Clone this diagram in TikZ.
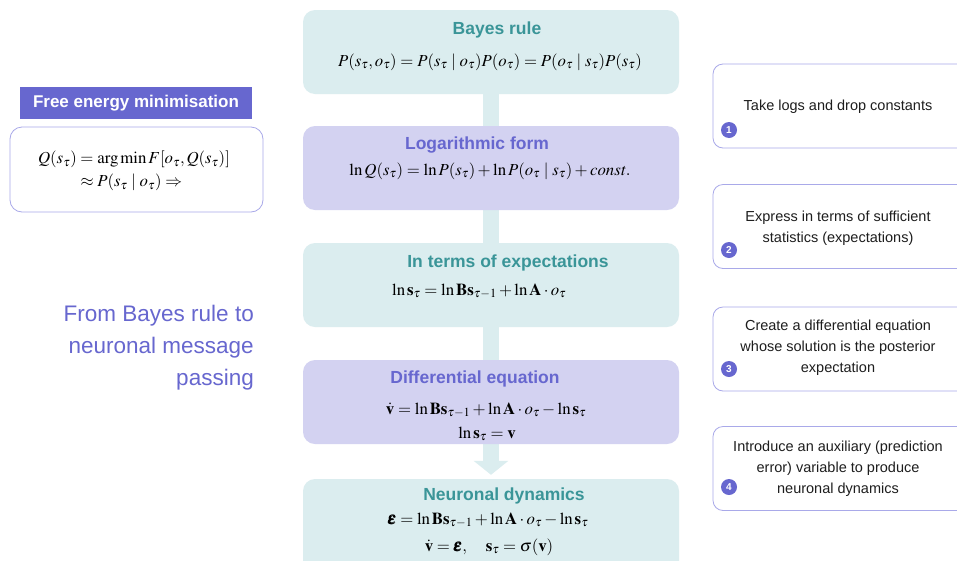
\documentclass[tikz,border=0pt]{standalone}
\usepackage{amsmath,amssymb}
\usepackage{mathptmx}
\usepackage[no-math]{fontspec}
\setmainfont{Liberation Sans}
\usepackage{xcolor}
\usepackage{tikz}
\usetikzlibrary{arrows.meta,positioning,backgrounds}
\definecolor{tealbg}{HTML}{DBEDEF}
\definecolor{tealc}{HTML}{3A9598}
\definecolor{lavbg}{HTML}{D3D2F1}
\definecolor{lavc}{HTML}{6767CF}
\definecolor{lavline}{HTML}{A9A9E9}
\definecolor{inkc}{HTML}{1E1E1E}
\tikzset{
  stage/.style={rounded corners=12pt,minimum width=376pt,minimum height=84pt,inner sep=0pt},
  tstage/.style={stage,fill=tealbg},
  lstage/.style={stage,fill=lavbg},
  ttl/.style={font=\fontsize{17.5}{20}\selectfont\bfseries,inner sep=0pt,anchor=base,text height=12pt,text depth=3pt},
  eq/.style={font=\fontsize{16.8}{21}\selectfont,inner sep=0pt,anchor=base,text height=12pt,text depth=4pt},
  eqs/.style={font=\fontsize{16.8}{21}\selectfont,inner sep=0pt},
  note/.style={draw=lavline,thick,rounded corners=10pt,fill=white,minimum width=262pt,minimum height=84pt,inner sep=0pt},
  notetxt/.style={font=\fontsize{14.5}{21}\selectfont,text=inkc,align=center,inner sep=0pt},
  num/.style={circle,fill=lavc,text=white,minimum size=16pt,inner sep=0pt,font=\fontsize{10}{10}\selectfont\bfseries},
  bar/.style={line width=16pt,tealbg,-{Triangle[width=34pt,length=14pt]},shorten >=4pt}
}

\begin{document}
\begin{tikzpicture}[x=1pt,y=-1pt]
\useasboundingbox (0,0) rectangle (957,560);
\clip (0,0) rectangle (957,560);
% central chain
\node[tstage] (bayes) at (491,52) {};
\node[ttl,text=tealc] (bayesttl) at (497,34) {Bayes rule};
\node[eq] (bayeseq) at (490,66) {$P(s_\tau,o_\tau)=P(s_\tau\mid o_\tau)P(o_\tau)=P(o_\tau\mid s_\tau)P(s_\tau)$};
\node[lstage] (logf) at (491,168) {};
\node[ttl,text=lavc] (logfttl) at (477,149) {Logarithmic form};
\node[eq] (logfeq) at (490,175) {$\ln Q(s_\tau)=\ln P(s_\tau)+\ln P(o_\tau\mid s_\tau)+\mathit{const}.$};
\node[tstage] (expec) at (491,285) {};
\node[ttl,text=tealc] (expecttl) at (508,267) {In terms of expectations};
\node[eq,anchor=base west] (expeceq) at (392,295) {$\ln\mathbf{s}_\tau=\ln\mathbf{B}\mathbf{s}_{\tau-1}+\ln\mathbf{A}\cdot o_\tau$};
\node[lstage] (diffq) at (491,402) {};
\node[ttl,text=lavc] (diffqttl) at (475,383) {Differential equation};
\node[eq] (diffqa) at (486,414) {$\dot{\mathbf{v}}=\ln\mathbf{B}\mathbf{s}_{\tau-1}+\ln\mathbf{A}\cdot o_\tau-\ln\mathbf{s}_\tau$};
\node[eq] (diffqb) at (487,438) {$\ln\mathbf{s}_\tau=\mathbf{v}$};
\node[tstage,minimum height=100pt] (neuro) at (491,529) {};
\node[ttl,text=tealc] (neurottl) at (504,500) {Neuronal dynamics};
\node[eq] (neuroa) at (488,524) {$\pmb{\varepsilon}=\ln\mathbf{B}\mathbf{s}_{\tau-1}+\ln\mathbf{A}\cdot o_\tau-\ln\mathbf{s}_\tau$};
\node[eq] (neurob) at (489,551) {$\dot{\mathbf{v}}=\pmb{\varepsilon},\quad\mathbf{s}_\tau=\sigma(\mathbf{v})$};
% left side
\node[fill=lavc,text=white,minimum width=232pt,minimum height=32pt,inner sep=0pt,
  font=\fontsize{17}{20}\selectfont\bfseries] (fe) at (136,103) {Free energy minimisation};
\node[draw=lavline,thick,rounded corners=12pt,fill=white,minimum width=253pt,minimum height=85pt] (febox) at (136.5,169.5) {};
\node[eqs] (feeq) at (134,171) {$\begin{aligned}Q(s_\tau)&=\arg\min F[o_\tau,Q(s_\tau)]\\[-1pt]&\approx P(s_\tau\mid o_\tau)\Rightarrow\end{aligned}$};
\node[anchor=east,align=right,text=lavc,inner sep=0pt,font=\fontsize{22.5}{32}\selectfont] (motto) at (254,348) {From Bayes rule to\\neuronal message\\passing};
% right notes
\node[note] (n1) at (844,106) {};
\node[notetxt] (n1t) at (838,107) {Take logs and drop constants};
\node[num] (c1) at (729,130) {1};
\node[note] (n2) at (844,226.5) {};
\node[notetxt] (n2t) at (838,228) {Express in terms of sufficient\\statistics (expectations)};
\node[num] (c2) at (729,250) {2};
\node[note] (n3) at (844,349) {};
\node[notetxt] (n3t) at (838,348) {Create a differential equation\\whose solution is the posterior\\expectation};
\node[num] (c3) at (729,369) {3};
\node[note] (n4) at (844,468.5) {};
\node[notetxt] (n4t) at (838,469) {Introduce an auxiliary (prediction\\error) variable to produce\\neuronal dynamics};
\node[num] (c4) at (729,487) {4};
% flow bar behind the stages
\begin{scope}[on background layer]
\fill[white] (0,0) rectangle (957,560);
\draw[bar] (bayes.south) -- (neuro.north);
\end{scope}
\end{tikzpicture}
\end{document}
